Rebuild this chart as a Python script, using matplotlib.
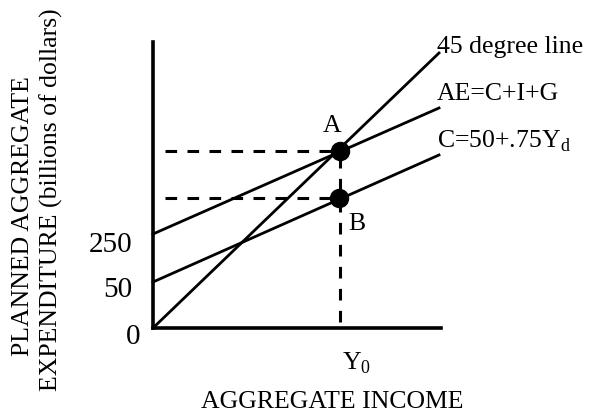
import matplotlib
matplotlib.use('Agg')
import matplotlib.pyplot as plt

# Diagram units (schematic, not to scale)
x_end = [0, 286]
line45 = [0, 275]
ae_line = [94, 220]
c_line = [46, 173]
point_a = (187, 177)
point_b = (186, 130)
ytick_labels = ['250', '50', '0']
line_labels = ['45 degree line', 'AE=C+I+G', r'C=50+.75Y$_\mathrm{d}$']

plt.rcParams['font.family'] = ['Liberation Serif', 'DejaVu Serif']
plt.rcParams['mathtext.fontset'] = 'custom'
plt.rcParams['mathtext.rm'] = 'Liberation Serif'

W, H = 590, 412
fig = plt.figure(figsize=(5.9, 4.12), dpi=100)
ax = fig.add_axes([153 / W, 84 / H, 288 / W, 286 / H])
ax.set_xlim(0, 288)
ax.set_ylim(0, 286)
for s in ['top', 'right']:
    ax.spines[s].set_visible(False)
for s in ['left', 'bottom']:
    ax.spines[s].set_linewidth(2.6)
ax.set_xticks([])
ax.set_yticks([])


def ptext(x, y, s, **kw):
    # place text by pixel position in the 590x412 picture
    fig.text(x / W, 1 - y / H, s, **kw)


lw = 2.0
ax.plot(x_end, line45, color='black', lw=lw, clip_on=False)
ax.plot(x_end, ae_line, color='black', lw=lw, clip_on=False)
ax.plot(x_end, c_line, color='black', lw=lw, clip_on=False)

# dashed guides
dash = (0, (3.8, 3.4))
ax.plot([12, point_a[0]], [point_a[1], point_a[1]], color='black', lw=2.2, linestyle=dash)
ax.plot([12, point_b[0]], [point_b[1], point_b[1]], color='black', lw=2.2, linestyle=dash)
ax.plot([point_a[0], point_a[0]], [6, point_a[1]], color='black', lw=2.2, linestyle=dash)

ax.plot(*point_a, 'o', color='black', markersize=13, clip_on=False, zorder=5)
ax.plot(*point_b, 'o', color='black', markersize=13, clip_on=False, zorder=5)

fs = 18.5
ptext(332, 132, 'A', fontsize=fs, ha='center', va='baseline')
ptext(357, 230, 'B', fontsize=fs, ha='center', va='baseline')

for yb, lab in zip([53, 100, 148], line_labels):
    ptext(437, yb, lab, fontsize=fs, ha='left', va='baseline')

for (xr, yb), lab in zip([(132, 252), (132, 297), (140, 344)], ytick_labels):
    ptext(xr, yb, lab, fontsize=21, ha='right', va='baseline')

ptext(342, 370, r'Y$_0$', fontsize=fs, ha='left', va='baseline')

ptext(201, 408, 'AGGREGATE INCOME', fontsize=fs, ha='left', va='baseline')
ptext(29, 216, 'PLANNED AGGREGATE', fontsize=fs, ha='center', va='baseline',
      rotation=90, rotation_mode='anchor')
ptext(58, 200, 'EXPENDITURE (billions of dollars)', fontsize=fs, ha='center', va='baseline',
      rotation=90, rotation_mode='anchor')

fig.savefig('out.png', dpi=100)
